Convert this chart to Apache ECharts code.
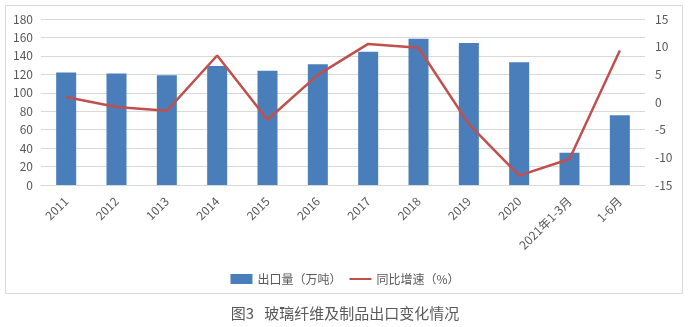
<!DOCTYPE html>
<html>
<head>
<meta charset="utf-8">
<script src="https://cdn.jsdelivr.net/npm/echarts@6/dist/echarts.min.js"></script>
<style>
html,body{margin:0;padding:0;background:#fff;}
#chart{width:690px;height:327px;}
</style>
</head>
<body>
<div id="chart"></div>
<script>
// Glass fibre and products: export volume and year-on-year growth
const categories = ['2011','2012','1013','2014','2015','2016','2017','2018','2019','2020','2021年1-3月','1-6月'];
const exportVolume = [122, 121, 119, 129, 124, 131, 144.5, 158.6, 154, 133, 35, 75.7];
const yoyGrowth = [0.9, -0.9, -1.6, 8.4, -3.2, 4.9, 10.5, 9.8, -4.0, -13.3, -10.3, 9.3];
const leftTicks = {min: 0, max: 180, interval: 20};
const rightTicks = {min: -15, max: 15, interval: 5};

const chart = echarts.init(document.getElementById('chart'), null, {renderer: 'canvas'});
const font = '"Microsoft YaHei","Noto Sans CJK SC",sans-serif';
chart.setOption({
  animation: false,
  textStyle: {fontFamily: font},
  graphic: [{
    type: 'rect',
    shape: {x: 5.5, y: 5.5, width: 677, height: 288},
    style: {fill: 'none', stroke: '#d9d9d9', lineWidth: 1},
    silent: true
  }],
  title: {
    text: '图3   玻璃纤维及制品出口变化情况',
    left: 'center',
    top: 301,
    textStyle: {fontSize: 15, fontWeight: 'normal', color: '#595959', fontFamily: font}
  },
  legend: {
    top: 268,
    left: 'center',
    itemGap: 8,
    itemWidth: 22,
    itemHeight: 10,
    textStyle: {fontSize: 12, color: '#595959', fontFamily: font},
    data: [
      {name: '出口量（万吨）', icon: 'rect'},
      {name: '同比增速（%）', icon: 'path://M0,4L22,4L22,6L0,6Z'}
    ]
  },
  grid: {left: 41, right: 45, top: 19, bottom: 142, containLabel: false},
  xAxis: {
    type: 'category',
    data: categories,
    axisLine: {show: true, lineStyle: {color: '#d9d9d9'}},
    axisTick: {show: false},
    axisLabel: {rotate: 45, fontSize: 12, color: '#595959', margin: 14, interval: 0}
  },
  yAxis: [{
    type: 'value',
    min: leftTicks.min, max: leftTicks.max, interval: leftTicks.interval,
    axisLine: {show: false},
    axisTick: {show: false},
    axisLabel: {fontSize: 12, color: '#595959', margin: 8},
    splitLine: {lineStyle: {color: '#d9d9d9'}}
  }, {
    type: 'value',
    min: rightTicks.min, max: rightTicks.max, interval: rightTicks.interval,
    axisLine: {show: false},
    axisTick: {show: false},
    axisLabel: {fontSize: 12, color: '#595959', margin: 10},
    splitLine: {show: false}
  }],
  series: [{
    name: '出口量（万吨）',
    type: 'bar',
    data: exportVolume,
    barWidth: 20,
    itemStyle: {color: '#4a7ebb'}
  }, {
    name: '同比增速（%）',
    type: 'line',
    yAxisIndex: 1,
    data: yoyGrowth,
    symbol: 'none',
    lineStyle: {color: '#c0504d', width: 2.5},
    itemStyle: {color: '#c0504d'}
  }]
});
</script>
</body>
</html>
